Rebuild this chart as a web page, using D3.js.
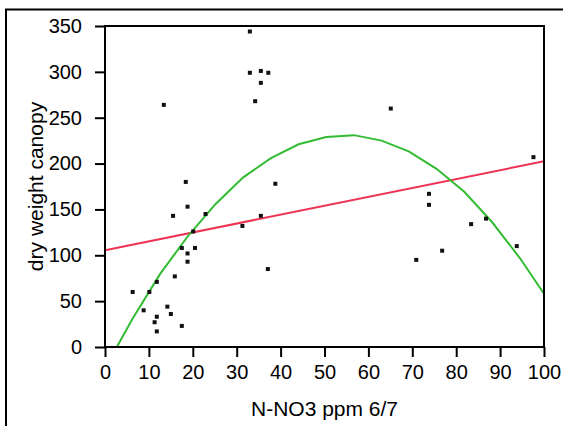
<!DOCTYPE html>
<html><head><meta charset="utf-8">
<script src="https://cdn.jsdelivr.net/npm/d3@7"></script>
<style>body{margin:0;background:#fff;overflow:hidden;}svg{display:block;font-family:"Liberation Sans",Arial,sans-serif;}</style>
</head><body>
<script>
const xTicks = [0,10,20,30,40,50,60,70,80,90,100];
const yTicks = [0,50,100,150,200,250,300,350];
const pointsX = [33.0,33.0,35.5,37.2,35.5,34.2,13.4,18.4,38.8,18.8,15.5,22.9,31.3,35.5,20.1,17.5,20.5,18.8,18.8,37.1,15.9,11.8,6.3,10.1,8.8,14.2,15.0,11.8,11.3,11.8,17.5,65.1,97.6,73.8,73.8,83.4,86.8,93.8,76.8,70.9];
const pointsY = [344,299,301,299,288,268,264,180,178,153,143,145,132,143,126,108,108,102,93,85,77,71,60,60,40,44,36,33,27,17,23,260,207,167,155,134,140,110,105,95];
const linFitX = [0,100];
const linFitY = [105.5,202.5];
const quadFitX = [2.7,6.3,12.6,18.9,25.2,31.5,37.8,44.1,50.4,56.7,63,69.3,75.6,81.9,88.2,94.5,100];
const quadFitY = [0,31,80,121,156,185,206,221,229,231,225,213,194,169,136,97,58];

(function(){
const W=563,H=426;
const mL=105,mR=544,mT=26,mB=347;
const svg=d3.select("body").append("svg").attr("width",W).attr("height",H);
svg.append("rect").attr("x",6).attr("y",9.5).attr("width",W+20).attr("height",H+20)
  .attr("fill","none").attr("stroke","#000").attr("stroke-width",2);

const x=d3.scaleLinear().domain([0,100]).range([mL,mR]);
const y=d3.scaleLinear().domain([0,350]).range([mB,mT]);

const defs=svg.append("defs");
defs.append("clipPath").attr("id","clip").append("rect")
  .attr("x",mL).attr("y",mT).attr("width",mR-mL).attr("height",mB-mT);

const xAxis=svg.append("g").attr("transform",`translate(0,${mB})`)
  .call(d3.axisBottom(x).tickValues(xTicks).tickSize(10).tickSizeOuter(0).tickPadding(8));
const yAxis=svg.append("g").attr("transform",`translate(${mL},0)`)
  .call(d3.axisLeft(y).tickValues(yTicks).tickSize(10).tickSizeOuter(0).tickPadding(13));
[xAxis,yAxis].forEach(g=>{
  g.select(".domain").remove();
  g.selectAll(".tick line").attr("stroke","#000").attr("stroke-width",2);
  g.selectAll(".tick text").attr("fill","#000").style("font-size","20px")
   .style("font-family","'Liberation Sans',Arial,sans-serif");
});

const plot=svg.append("g").attr("clip-path","url(#clip)");
plot.append("path").datum(linFitX.map((v,i)=>[v,linFitY[i]]))
  .attr("d",d3.line().x(d=>x(d[0])).y(d=>y(d[1])))
  .attr("fill","none").attr("stroke","#ee3352").attr("stroke-width",2);
plot.append("path").datum(quadFitX.map((v,i)=>[v,quadFitY[i]]))
  .attr("d",d3.line().x(d=>x(d[0])).y(d=>y(d[1])))
  .attr("fill","none").attr("stroke","#33bb33").attr("stroke-width",2);
svg.append("g").selectAll("rect").data(pointsX.map((v,i)=>[v,pointsY[i]])).join("rect")
  .attr("x",d=>x(d[0])-2).attr("y",d=>y(d[1])-2).attr("width",4).attr("height",4).attr("fill","#111");

svg.append("rect").attr("x",mL).attr("y",mT).attr("width",mR-mL).attr("height",mB-mT)
  .attr("fill","none").attr("stroke","#000").attr("stroke-width",2);

svg.append("text").attr("x",(mL+mR)/2).attr("y",416).attr("text-anchor","middle")
  .style("font-size","21px").text("N-NO3 ppm 6/7");
svg.append("text").attr("transform",`translate(43,${(mT+mB)/2}) rotate(-90)`).attr("text-anchor","middle")
  .style("font-size","21px").text("dry weight canopy");
})();
</script>
</body></html>
